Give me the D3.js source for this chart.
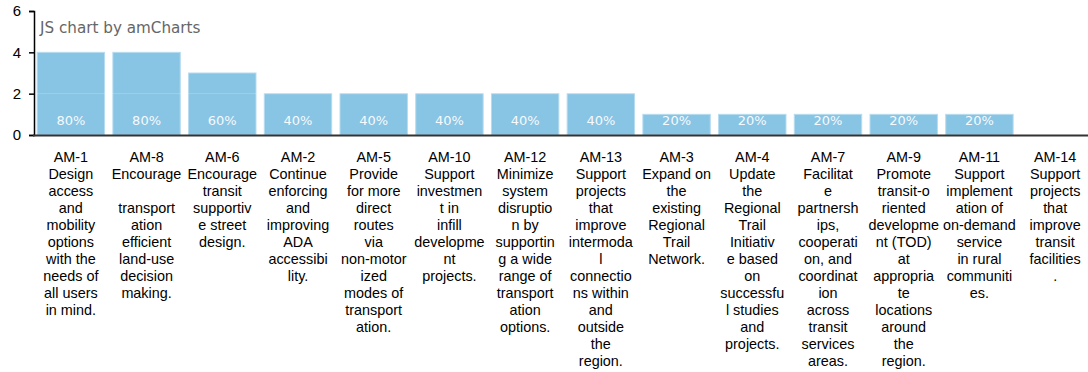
<!DOCTYPE html>
<html>
<head>
<meta charset="utf-8">
<script src="https://cdn.jsdelivr.net/npm/d3@7"></script>
<style>
  body { margin: 0; background: #fff; }
  svg { display: block; }
</style>
</head>
<body>
<svg id="chart" width="1088" height="372"></svg>
<script>
const categories = ["AM-1", "AM-8", "AM-6", "AM-2", "AM-5", "AM-10", "AM-12", "AM-13", "AM-3", "AM-4", "AM-7", "AM-9", "AM-11", "AM-14"];
const values = [4, 4, 3, 2, 2, 2, 2, 2, 1, 1, 1, 1, 1, 0];
const percents = ["80%", "80%", "60%", "40%", "40%", "40%", "40%", "40%", "20%", "20%", "20%", "20%", "20%", ""];
const yTicks = [0, 2, 4, 6];
// label lines as wrapped in the original chart
const labelLines = [
    ["AM-1", "Design", "access", "and", "mobility", "options", "with the", "needs of", "all users", "in mind."],
    ["AM-8", "Encourage", "", "transport", "ation", "efficient", "land-use", "decision", "making."],
    ["AM-6", "Encourage", "transit", "supportiv", "e street", "design."],
    ["AM-2", "Continue", "enforcing", "and", "improving", "ADA", "accessibi", "lity."],
    ["AM-5", "Provide", "for more", "direct", "routes", "via", "non-motor", "ized", "modes of", "transport", "ation."],
    ["AM-10", "Support", "investmen", "t in", "infill", "developme", "nt", "projects."],
    ["AM-12", "Minimize", "system", "disruptio", "n by", "supportin", "g a wide", "range of", "transport", "ation", "options."],
    ["AM-13", "Support", "projects", "that", "improve", "intermoda", "l", "connectio", "ns within", "and", "outside", "the", "region."],
    ["AM-3", "Expand on", "the", "existing", "Regional", "Trail", "Network."],
    ["AM-4", "Update", "the", "Regional", "Trail", "Initiativ", "e based", "on", "successfu", "l studies", "and", "projects."],
    ["AM-7", "Facilitat", "e", "partnersh", "ips,", "cooperati", "on, and", "coordinat", "ion", "across", "transit", "services", "areas."],
    ["AM-9", "Promote", "transit-o", "riented", "developme", "nt (TOD)", "at", "appropria", "te", "locations", "around", "the", "region."],
    ["AM-11", "Support", "implement", "ation of", "on-demand", "service", "in rural", "communiti", "es."],
    ["AM-14", "Support", "projects", "that", "improve", "transit", "facilities", "."]
];

const svg = d3.select("#chart");

const x = d3.scaleBand()
    .domain(categories)
    .range([33, 1093])
    .paddingInner(0.11)
    .paddingOuter(0.055);

const y = d3.scaleLinear()
    .domain([0, 6])
    .range([135, 11]);

// bars
svg.append("g")
    .selectAll("rect")
    .data(values)
    .join("rect")
    .attr("x", (d, i) => x(categories[i]))
    .attr("y", d => y(d))
    .attr("width", x.bandwidth())
    .attr("height", d => y(0) - y(d))
    .attr("fill", "#88c4e4")
    .attr("stroke", "#b5dbef")
    .attr("stroke-width", 1)
    .style("display", d => d > 0 ? null : "none");

// gridline at value 2 (shows faintly through bars)
svg.append("g")
    .selectAll("line")
    .data([2])
    .join("line")
    .attr("x1", 34)
    .attr("x2", 1088)
    .attr("y1", d => y(d))
    .attr("y2", d => y(d))
    .attr("stroke", "#ffffff")
    .attr("stroke-opacity", 0.2)
    .attr("stroke-width", 1);

// percentage labels
svg.append("g")
    .selectAll("text")
    .data(percents)
    .join("text")
    .attr("x", (d, i) => x(categories[i]) + x.bandwidth() / 2)
    .attr("y", y(0) - 10)
    .attr("text-anchor", "middle")
    .attr("fill", "#f6fafd")
    .style("font-family", "Verdana, 'DejaVu Sans', sans-serif")
    .style("font-size", "13px")
    .text(d => d);

// y axis
const yAxis = svg.append("g")
    .attr("transform", "translate(34,0)")
    .call(d3.axisLeft(y).tickValues(yTicks).tickFormat(d3.format("d")).tickSize(5).tickPadding(8));
yAxis.select(".domain").attr("stroke", "#000").attr("stroke-width", 1.5);
yAxis.selectAll(".tick line").attr("stroke", "#000").attr("stroke-width", 1.5);
yAxis.selectAll(".tick text")
    .attr("fill", "#000")
    .style("font-family", "Arial, 'Liberation Sans', sans-serif")
    .style("font-size", "15px");

// x axis line
svg.append("line")
    .attr("x1", 33)
    .attr("x2", 1088)
    .attr("y1", y(0) + 0.5)
    .attr("y2", y(0) + 0.5)
    .attr("stroke", "#333")
    .attr("stroke-width", 2);

// category labels
const lab = svg.append("g")
    .selectAll("text")
    .data(labelLines)
    .join("text")
    .attr("text-anchor", "middle")
    .attr("fill", "#000")
    .style("font-family", "Arial, 'Liberation Sans', sans-serif")
    .style("font-size", "14.4px");

lab.each(function (lines, i) {
    const cx = x(categories[i]) + x.bandwidth() / 2;
    d3.select(this).selectAll("tspan")
        .data(lines)
        .join("tspan")
        .attr("x", cx)
        .attr("y", (d, j) => 162 + j * 17)
        .text(d => d);
});

// credit
svg.append("text")
    .attr("x", 40)
    .attr("y", 33)
    .attr("fill", "#666")
    .style("font-family", "Verdana, 'DejaVu Sans', sans-serif")
    .style("font-size", "15.2px")
    .text("JS chart by amCharts");
</script>
</body>
</html>
